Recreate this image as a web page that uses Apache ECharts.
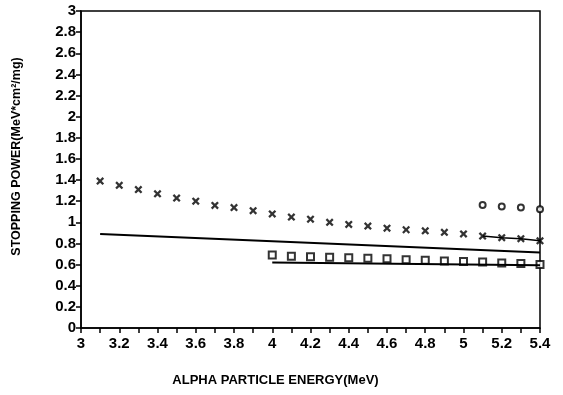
<!DOCTYPE html>
<html>
<head>
<meta charset="utf-8">
<script src="https://cdn.jsdelivr.net/npm/echarts@6/dist/echarts.min.js"></script>
<style>
  html, body { margin: 0; padding: 0; background: #fff; }
  #chart { width: 563px; height: 395px; }
</style>
</head>
<body>
<div id="chart"></div>
<script>
// crosses: 3.1 .. 5.4
var crossEnergy = [3.1, 3.2, 3.3, 3.4, 3.5, 3.6, 3.7, 3.8, 3.9, 4.0, 4.1, 4.2,
  4.3, 4.4, 4.5, 4.6, 4.7, 4.8, 4.9, 5.0, 5.1, 5.2, 5.3, 5.4]
var crossPower = [1.39, 1.35, 1.31, 1.27, 1.23, 1.20, 1.16, 1.14, 1.11, 1.08, 1.05, 1.03,
  1.00, 0.98, 0.965, 0.945, 0.93, 0.92, 0.905, 0.89, 0.87, 0.855, 0.845, 0.825]
// squares: 4.0 .. 5.4
var squareEnergy = [4.0, 4.1, 4.2, 4.3, 4.4, 4.5, 4.6, 4.7, 4.8, 4.9, 5.0, 5.1, 5.2, 5.3, 5.4]
var squarePower = [0.69, 0.68, 0.675, 0.67, 0.665, 0.66, 0.655, 0.645, 0.64, 0.635, 0.63, 0.625, 0.615, 0.61, 0.60]
// circles near the top right
var circleEnergy = [5.1, 5.2, 5.3, 5.4]
var circlePower = [1.165, 1.15, 1.14, 1.125]
// solid lines
var lineAEnergy = [3.1, 5.4]
var lineAPower = [0.89, 0.715]
var lineBEnergy = [5.1, 5.2, 5.3, 5.4]
var lineBPower = [0.87, 0.855, 0.845, 0.825]
var lineCEnergy = [4.0, 5.4]
var lineCPower = [0.62, 0.595]

function pairs (xs, ys) {
  return xs.map(function (x, i) { return [x, ys[i]] })
}

var crossPath = 'path://M0,2L2,0L5,3L8,0L10,2L7,5L10,8L8,10L5,7L2,10L0,8L3,5Z'
var font = 'Liberation Sans, Arial, sans-serif'

var chart = echarts.init(document.getElementById('chart'))
chart.setOption({
  animation: false,
  grid: {
    left: 81, right: 23, top: 11, bottom: 67,
    show: true, borderColor: '#000', borderWidth: 1.5
  },
  xAxis: {
    type: 'value', min: 3, max: 5.4, interval: 0.1,
    name: 'ALPHA PARTICLE ENERGY(MeV)',
    nameLocation: 'middle', nameGap: 46,
    nameTextStyle: { color: '#000', fontFamily: font, fontWeight: 'bold', fontSize: 13, padding: [0, 70, 0, 0] },
    axisLine: { lineStyle: { color: '#000', width: 1.5 } },
    axisTick: { lineStyle: { color: '#000', width: 1.5 }, length: 5 },
    axisLabel: {
      color: '#000', fontFamily: font, fontWeight: 'bold', fontSize: 15, margin: 8,
      showMinLabel: true, showMaxLabel: true,
      formatter: function (v) {
        var t = Math.round(v * 10)
        return t % 2 === 0 ? String(t / 10) : ''
      }
    },
    splitLine: { show: false }
  },
  yAxis: {
    type: 'value', min: 0, max: 3, interval: 0.2,
    name: 'STOPPING POWER(MeV*cm²/mg)',
    nameLocation: 'middle', nameGap: 58,
    nameTextStyle: { color: '#000', fontFamily: font, fontWeight: 'bold', fontSize: 12.5, padding: [0, 0, 0, 26] },
    axisLine: { lineStyle: { color: '#000', width: 1.5 } },
    axisTick: { lineStyle: { color: '#000', width: 1.5 }, length: 5 },
    axisLabel: {
      color: '#000', fontFamily: font, fontWeight: 'bold', fontSize: 15, margin: 5,
      formatter: function (v) { return String(Math.round(v * 10) / 10) }
    },
    splitLine: { show: false }
  },
  series: [{
    type: 'line', data: pairs(lineAEnergy, lineAPower), symbol: 'none',
    lineStyle: { color: '#000', width: 2 }
  }, {
    type: 'line', data: pairs(lineBEnergy, lineBPower), symbol: 'none',
    lineStyle: { color: '#000', width: 1.5 }
  }, {
    type: 'line', data: pairs(lineCEnergy, lineCPower), symbol: 'none',
    lineStyle: { color: '#000', width: 2 }
  }, {
    type: 'scatter', data: pairs(crossEnergy, crossPower), symbol: crossPath, symbolSize: 8,
    itemStyle: { color: '#000' }
  }, {
    type: 'scatter', data: pairs(squareEnergy, squarePower), symbol: 'emptyRect', symbolSize: 7,
    itemStyle: { color: '#000', borderWidth: 2 }
  }, {
    type: 'scatter', data: pairs(circleEnergy, circlePower), symbol: 'emptyCircle', symbolSize: 6,
    itemStyle: { color: '#000', borderWidth: 2 }
  }]
})
</script>
</body>
</html>
